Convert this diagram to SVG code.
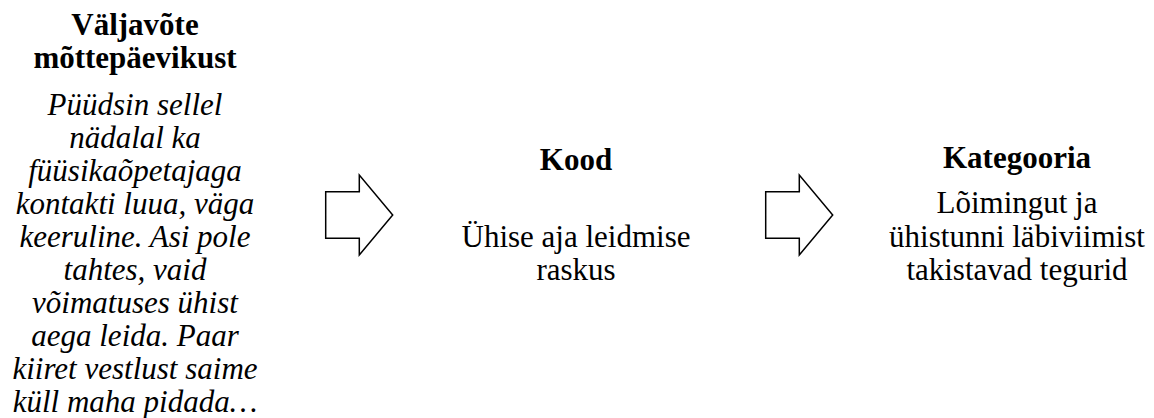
<svg xmlns="http://www.w3.org/2000/svg" width="1154" height="418" viewBox="0 0 1154 418">
<defs>
<path id="blockArrow" d="M0,16.7 H33.6 V0 L67,40 L33.6,80 V63.3 H0 Z" fill="#fff" stroke="#000" stroke-width="1.5"/>
</defs>
<g id="node-excerpt" font-family="Liberation Serif" font-size="31" text-anchor="middle" fill="#000">
<text font-weight="bold" x="135" y="35">Väljavõte</text>
<text font-weight="bold" x="135" y="68">mõttepäevikust</text>
<g font-style="italic">
<text x="135" y="115">Püüdsin sellel</text>
<text x="135" y="148">nädalal ka</text>
<text x="135" y="181">füüsikaõpetajaga</text>
<text x="135" y="214">kontakti luua, väga</text>
<text x="135" y="247">keeruline. Asi pole</text>
<text x="135" y="280">tahtes, vaid</text>
<text x="135" y="313">võimatuses ühist</text>
<text x="135" y="346">aega leida. Paar</text>
<text x="135" y="379">kiiret vestlust saime</text>
<text x="135" y="412">küll maha pidada…</text>
</g>
</g>
<g id="node-code" font-family="Liberation Serif" font-size="31" text-anchor="middle" fill="#000">
<text font-weight="bold" x="576" y="170">Kood</text>
<text x="576" y="247">Ühise aja leidmise</text>
<text x="576" y="280">raskus</text>
</g>
<g id="node-category" font-family="Liberation Serif" font-size="31" text-anchor="middle" fill="#000">
<text font-weight="bold" x="1017" y="168">Kategooria</text>
<text x="1017" y="213">Lõimingut ja</text>
<text x="1017" y="247">ühistunni läbiviimist</text>
<text x="1017" y="280">takistavad tegurid</text>
</g>
<g id="connectors">
<use href="#blockArrow" x="325.7" y="175"/>
<use href="#blockArrow" x="765.7" y="175"/>
</g>
</svg>
